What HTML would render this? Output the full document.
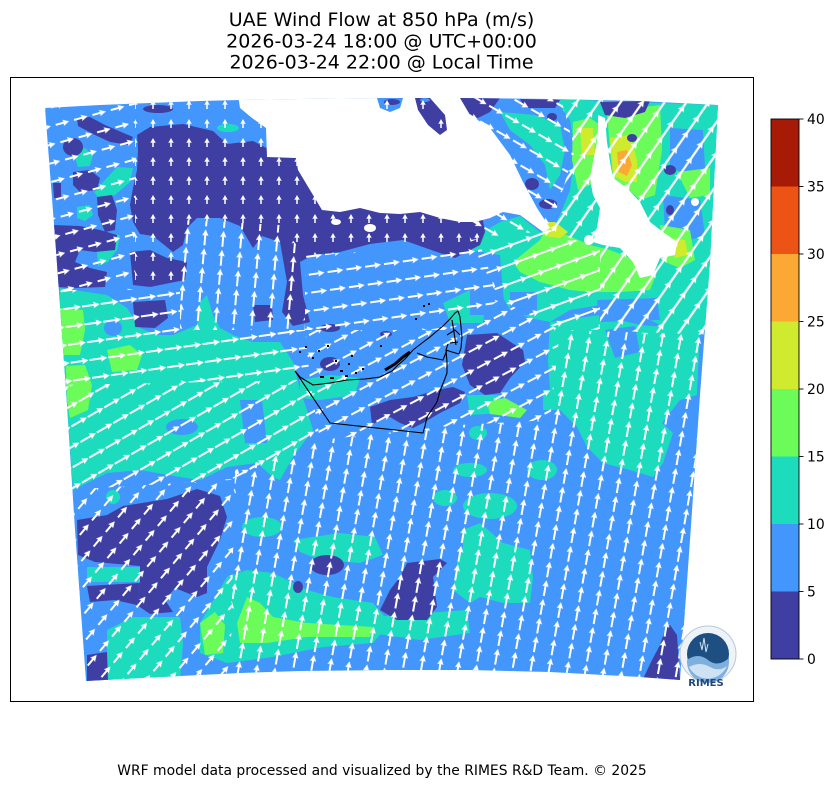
<!DOCTYPE html>
<html>
<head>
<meta charset="utf-8">
<style>
html,body{margin:0;padding:0;background:#fff;}
svg{display:block;}
text{font-family:"DejaVu Sans","Liberation Sans",sans-serif;}
</style>
</head>
<body>
<svg width="835" height="788" viewBox="0 0 835 788" xmlns="http://www.w3.org/2000/svg">
<defs>
<clipPath id="mc"><path d="M45,108 L100,105 L150,103 L200,101 L240,100 L300,99 L380,98 L460,98 L550,99 L640,101 L718,105 L710,262 L700,395 L690,540 L680,680 L640,677 L550,672 L470,670 L390,670 L300,671 L240,673 L160,677 L86,681 L75,530 L66,390 L56,250 Z"/></clipPath>
<path id="a9" d="M-4.5,-0.8 L0,-0.8 L-0.5,-2.8 L4.5,0 L-0.5,2.8 L0,0.8 L-4.5,0.8Z" fill="#fff"/>
<path id="a14" d="M-7,-1 L1.2,-1 L0.5,-3.2 L7,0 L0.5,3.2 L1.2,1 L-7,1Z" fill="#fff"/>
<path id="a16" d="M-8,-1 L2.2,-1 L1.5,-3.2 L8,0 L1.5,3.2 L2.2,1 L-8,1Z" fill="#fff"/>
<path id="a18" d="M-9,-1 L3.2,-1 L2.5,-3.3 L9,0 L2.5,3.3 L3.2,1 L-9,1Z" fill="#fff"/>
<path id="a22" d="M-11,-1 L5.2,-1 L4.5,-3.4 L11,0 L4.5,3.4 L5.2,1 L-11,1Z" fill="#fff"/>
<path id="a24" d="M-12,-1.1 L6,-1.1 L5.3,-3.5 L12,0 L5.3,3.5 L6,1.1 L-12,1.1Z" fill="#fff"/>

<pattern id="pR1" width="19" height="18" patternUnits="userSpaceOnUse" patternTransform="rotate(-15)"><use href="#a14" x="9.5" y="9"/></pattern>
<pattern id="pR2" width="19" height="18" patternUnits="userSpaceOnUse" patternTransform="rotate(-90)"><use href="#a9" x="9.5" y="9"/></pattern>
<pattern id="pR3" width="19" height="18" patternUnits="userSpaceOnUse" patternTransform="rotate(-85)"><use href="#a16" x="9.5" y="9"/></pattern>
<pattern id="pR4" width="19" height="18" patternUnits="userSpaceOnUse" patternTransform="rotate(-8)"><use href="#a18" x="9.5" y="9"/></pattern>
<pattern id="pR5" width="19" height="18" patternUnits="userSpaceOnUse" patternTransform="rotate(-30)"><use href="#a18" x="9.5" y="9"/></pattern>
<pattern id="pR6a" width="19" height="18" patternUnits="userSpaceOnUse" patternTransform="rotate(-8)"><use href="#a16" x="9.5" y="9"/></pattern>
<pattern id="pR6b" width="19" height="18" patternUnits="userSpaceOnUse" patternTransform="rotate(-28)"><use href="#a16" x="9.5" y="9"/></pattern>
<pattern id="pR7a" width="19" height="18" patternUnits="userSpaceOnUse" patternTransform="rotate(-20)"><use href="#a22" x="9.5" y="9"/><use href="#a22" x="-9.5" y="9"/><use href="#a22" x="28.5" y="9"/></pattern>
<pattern id="pR7b" width="19" height="18" patternUnits="userSpaceOnUse" patternTransform="rotate(-55)"><use href="#a24" x="9.5" y="9"/><use href="#a24" x="-9.5" y="9"/><use href="#a24" x="28.5" y="9"/></pattern>
<pattern id="pR8" width="19" height="18" patternUnits="userSpaceOnUse" patternTransform="rotate(30)"><use href="#a16" x="9.5" y="9"/></pattern>
<pattern id="pR9" width="19" height="18" patternUnits="userSpaceOnUse" patternTransform="rotate(-80)"><use href="#a16" x="9.5" y="9"/></pattern>
<pattern id="pR10" width="19" height="18" patternUnits="userSpaceOnUse" patternTransform="rotate(-50)"><use href="#a14" x="9.5" y="9"/></pattern>
</defs>

<rect width="835" height="788" fill="#fff"/>

<!-- Title -->
<text x="381.5" y="26" font-size="19" text-anchor="middle" fill="#000">UAE Wind Flow at 850 hPa (m/s)</text>
<text x="381.5" y="47.3" font-size="19" text-anchor="middle" fill="#000">2026-03-24 18:00 @ UTC+00:00</text>
<text x="381.5" y="68.6" font-size="19" text-anchor="middle" fill="#000">2026-03-24 22:00 @ Local Time</text>

<!-- Map -->
<g clip-path="url(#mc)">
<rect x="0" y="0" width="835" height="788" fill="#4396fc"/>

<!-- teal -->
<g fill="#1ddcbe">
<polygon points="60,288 107,295 127,308 140,328 157,335 173,335 197,325 200,302 207,295 213,315 220,328 233,335 253,342 280,342 293,362 300,390 307,410 313,430 293,457 280,480 273,477 257,463 227,467 200,480 180,477 140,470 107,473 73,490 66,390 60,330"/>
<polygon points="555,99 718,105 714,185 710,262 706,330 680,335 650,320 620,318 600,305 570,310 550,322 530,318 510,310 500,292 490,270 475,258 470,245 483,232 500,222 520,216 540,232 552,230 560,215 570,190 575,150 570,120"/>
<polygon points="500,112 535,115 560,125 565,150 560,175 550,190 545,165 530,145 510,130"/>
<polygon points="550,322 600,315 640,325 700,330 697,395 680,400 662,423 673,433 663,463 653,477 630,470 603,463 587,447 577,427 560,410 550,390 548,360"/>
<polygon points="73,152 85,148 93,155 90,166 78,167"/>
<polygon points="117,167 133,168 130,182 115,195 100,200 94,192 105,180"/>
<polygon points="77,207 90,205 93,215 85,221 77,218"/>
<polygon points="105,233 120,235 117,250 108,262 98,266 97,252"/>
<ellipse cx="228" cy="128" rx="11" ry="4"/>
<polygon points="443,303 470,290 487,292 483,323 450,323"/>
<polygon points="300,380 330,375 360,378 355,395 320,400 300,398"/>
<polygon points="467,395 500,395 503,413 470,415"/>
<polygon points="543,390 577,390 577,410 543,410"/>
<ellipse cx="478" cy="433" rx="9" ry="7"/>
<ellipse cx="470" cy="470" rx="17" ry="7"/>
<ellipse cx="542" cy="470" rx="15" ry="10"/>
<ellipse cx="445" cy="498" rx="12" ry="8"/>
<ellipse cx="490" cy="506" rx="27" ry="13"/>
<polygon points="463,530 480,523 503,543 530,550 533,577 530,603 503,603 480,597 470,603 453,590 457,563 463,547"/>
<polygon points="370,617 467,610 470,633 420,640 370,633"/>
<ellipse cx="262" cy="527" rx="20" ry="10"/>
<polygon points="293,540 340,533 375,537 383,555 360,563 320,560 300,552"/>
<ellipse cx="113" cy="497" rx="7" ry="7"/>
<polygon points="200,623 227,577 247,570 273,573 307,590 333,597 373,603 390,623 373,643 323,647 273,657 227,663 200,653"/>
<polygon points="107,630 133,617 180,617 183,643 180,681 107,681"/>
<polygon points="87,567 140,567 140,582 87,582"/>
</g>

<!-- blue patches inside teal -->
<g fill="#4396fc">
<ellipse cx="182" cy="427" rx="16" ry="8"/>
<polygon points="240,400 262,400 267,443 245,443"/>
<ellipse cx="113" cy="328" rx="9" ry="8"/>
<polygon points="670,128 703,130 705,168 690,175 670,168"/>
<polygon points="663,195 700,200 705,235 690,240 665,232"/>
<polygon points="470,250 500,255 505,315 470,315"/>
<polygon points="510,292 537,292 537,315 510,315"/>
<polygon points="597,300 657,298 660,320 600,322"/>
<polygon points="605,330 635,326 640,352 615,358"/>
</g>

<!-- green -->
<g fill="#6cfc5a">
<polygon points="573,122 590,118 600,125 598,178 590,185 578,190 572,160"/>
<polygon points="607,112 660,105 662,150 655,195 640,200 627,188 613,178 610,150"/>
<polygon points="677,172 710,168 710,195 690,198"/>
<polygon points="513,262 540,240 548,225 560,232 590,245 610,250 640,262 657,272 650,290 620,292 590,292 570,290 540,282 520,272"/>
<polygon points="660,225 690,230 695,260 680,268 665,262"/>
<polygon points="60,308 83,310 85,330 80,355 62,355"/>
<polygon points="66,366 85,365 92,385 88,410 70,418 67,400"/>
<polygon points="107,350 130,345 142,355 137,370 112,372"/>
<polygon points="487,402 505,398 527,410 520,418 490,414"/>
<polygon points="200,623 215,612 225,625 223,653 205,655"/>
<polygon points="247,597 260,603 273,617 307,623 373,627 370,637 307,637 267,643 240,643 237,623"/>
</g>

<!-- yellow / orange -->
<g fill="#d0ea2e">
<polygon points="580,128 593,128 595,155 582,155"/>
<polygon points="610,138 630,135 637,160 637,182 625,182 613,175"/>
<polygon points="543,222 555,222 568,232 560,238 545,236"/>
<polygon points="668,238 685,240 688,255 675,258"/>
</g>
<polygon points="617,152 627,150 632,165 627,176 619,172" fill="#fba834"/>

<!-- purple -->
<g fill="#3f3fa3">
<polygon points="137,135 150,127 183,124 213,131 227,144 253,141 270,150 300,150 330,200 380,205 480,205 485,232 480,245 455,258 437,252 403,240 370,244 340,252 313,255 300,262 303,295 310,322 293,326 282,312 287,282 280,242 262,236 253,248 240,226 220,218 197,218 187,228 183,245 173,252 153,236 140,234 133,222 130,205 133,188 137,170 138,150"/>
<polygon points="73,172 90,170 100,178 97,190 80,192 73,185"/>
<polygon points="97,197 112,195 117,210 115,230 105,232 98,215"/>
<polygon points="53,225 80,226 100,230 117,235 115,250 95,252 80,250 75,262 90,268 107,272 105,287 75,288 58,287 55,255"/>
<polygon points="53,183 61,183 61,198 54,198"/>
<ellipse cx="158" cy="109" rx="15" ry="4"/>
<polygon points="77,118 90,117 105,125 133,137 130,145 110,142 95,135 78,126"/>
<ellipse cx="73" cy="147" rx="10" ry="9"/>
<polygon points="130,252 150,250 167,258 187,262 185,280 150,287 133,285"/>
<polygon points="133,302 165,300 168,318 155,328 135,327"/>
<polygon points="253,305 272,305 273,320 255,322"/>
<ellipse cx="330" cy="364" rx="10" ry="7"/>
<ellipse cx="330" cy="328" rx="10" ry="4"/>
<ellipse cx="386" cy="334" rx="6" ry="3"/>
<polygon points="372,425 370,407 390,400 413,397 437,390 453,387 465,392 460,403 440,413 423,423 413,428 400,423 390,417 380,420"/>
<polygon points="467,335 497,333 523,350 525,362 510,378 500,393 485,395 470,385 462,365"/>
<polygon points="407,563 440,559 447,563 433,577 437,607 427,620 397,620 380,610 390,590 400,577"/>
<polygon points="670,625 677,635 680,680 643,679 652,660 660,645 665,630"/>
<polygon points="77,520 107,515 123,506 167,499 197,489 220,496 227,517 220,540 207,567 207,593 197,597 175,588 165,600 173,612 150,614 137,605 140,583 140,566 95,562 78,555"/>
<polygon points="87,586 140,583 137,605 115,600 90,602"/>
<polygon points="87,655 107,652 108,681 87,681"/>
<ellipse cx="327" cy="565" rx="17" ry="10"/>
<ellipse cx="298" cy="587" rx="5" ry="6"/>
<polygon points="600,102 650,101 645,112 625,118 605,115"/>
<polygon points="520,99 560,100 555,108 525,108"/>
<ellipse cx="532" cy="184" rx="7" ry="6"/>
<ellipse cx="548" cy="204" rx="9" ry="5"/>
<ellipse cx="632" cy="138" rx="5" ry="4"/>
<ellipse cx="670" cy="170" rx="6" ry="5"/>
<ellipse cx="670" cy="210" rx="4" ry="5"/>
<ellipse cx="552" cy="117" rx="5" ry="4"/>
</g>

<!-- white masks -->
<g fill="#fff">
<polygon points="238,95 240,108 252,118 266,128 267,157 296,158 298,170 310,190 322,210 340,212 360,208 380,213 400,214 420,212 440,218 460,222 475,222 490,218 503,212 520,215 543,232 550,228 537,208 523,182 510,155 490,128 470,115 462,95"/>
<ellipse cx="370" cy="228" rx="6" ry="4"/>
<ellipse cx="336" cy="222" rx="5" ry="3"/>
<polygon points="598,115 605,118 607,142 610,162 613,178 627,188 640,202 650,222 663,232 677,242 675,255 660,258 653,275 640,278 633,262 620,248 603,245 593,242 597,228 600,208 593,195 590,178 593,162 597,142 598,128"/>
<circle cx="695" cy="202" r="4"/>
<circle cx="589" cy="240" r="5"/>
</g>
<polygon points="377,98 403,98 400,108 390,112 380,108" fill="#4396fc"/>
<ellipse cx="392" cy="102" rx="8" ry="3" fill="#3f3fa3"/>
<polygon points="415,98 430,98 445,115 447,130 440,135 428,125 418,110" fill="#3f3fa3"/>
<ellipse cx="425" cy="100" rx="5" ry="2" fill="#4396fc"/>
<polygon points="460,98 500,98 490,112 478,118 470,115" fill="#3f3fa3"/>

<!-- arrows -->
<polygon points="40,100 135,100 135,290 50,290" fill="url(#pR1)"/>
<polygon points="135,95 463,95 480,245 305,255 280,225 185,220 180,290 135,290" fill="url(#pR2)"/>
<polygon points="185,220 280,225 305,255 305,330 180,330 180,290" fill="url(#pR3)"/>
<polygon points="50,290 180,290 180,330 305,330 310,380 60,385" fill="url(#pR4)"/>
<polygon points="60,385 310,380 320,440 230,480 65,490" fill="url(#pR5)"/>
<polygon points="305,255 480,245 500,300 450,330 305,330" fill="url(#pR6a)"/>
<polygon points="305,330 450,330 500,300 560,330 550,420 460,425 320,440 310,380" fill="url(#pR6b)"/>
<polygon points="470,240 550,230 600,250 600,330 560,330 500,300" fill="url(#pR7a)"/>
<polygon points="560,95 725,95 710,335 600,330 600,250 550,230 575,150" fill="url(#pR7b)"/>
<polygon points="463,95 560,95 575,150 550,230 470,240" fill="url(#pR8)"/>
<polygon points="320,440 460,425 550,420 560,330 710,335 690,690 230,690 235,470" fill="url(#pR9)"/>
<polygon points="65,490 230,480 235,470 230,690 80,690" fill="url(#pR10)"/>
</g>

<!-- UAE outline -->
<g fill="none" stroke="#000" stroke-width="1.1" stroke-linejoin="round">
<path d="M295,371 L300,377 L313,385 L330,383 L347,380 L365,379 L380,377 L392,371 L398,365 L405,359 L413,350 L422,343 L430,337 L437,331 L443,326 L450,319 L455,313 L458,311 L460,317 L461,327 L462,337 L461,348 L459,354"/>
<path d="M295,371 L330,423 L423,433 L425,426 L427,417 L433,408 L437,402 L440,391 L444,381 L447,373 L447,362 L446,350 L448,344"/>
<path d="M446,350 L452,352 L459,354"/>
<path d="M417,353 L427,357 L443,360 L447,350"/>
<path d="M447,335 L455,330 L460,335 M450,343 L458,342 M452,320 L456,345"/>
<path d="M385,370 L395,364 L403,357 L410,352" stroke-width="3"/>
</g>
<g fill="#000">
<rect x="299" y="351" width="2" height="2"/><rect x="305" y="346" width="2" height="2"/>
<rect x="312" y="357" width="2" height="2"/><rect x="318" y="350" width="2" height="2"/>
<rect x="327" y="345" width="2" height="2"/><rect x="335" y="360" width="2" height="2"/>
<rect x="340" y="370" width="3" height="2"/><rect x="348" y="363" width="2" height="2"/>
<rect x="351" y="355" width="2" height="2"/><rect x="355" y="372" width="2" height="2"/>
<rect x="362" y="368" width="2" height="2"/><rect x="380" y="345" width="2" height="2"/>
<rect x="415" y="318" width="2" height="2"/><rect x="423" y="305" width="2" height="2"/>
<rect x="428" y="303" width="2" height="2"/><rect x="320" y="376" width="4" height="2"/>
<rect x="330" y="377" width="4" height="2"/><rect x="345" y="375" width="3" height="2"/>
</g>

<!-- Axes frame -->
<rect x="10.5" y="77.5" width="743" height="624" fill="none" stroke="#000" stroke-width="1"/>

<!-- Logo -->
<g>
<circle cx="708" cy="654" r="28" fill="#eef3f8" stroke="#b8c8da" stroke-width="1"/>
<circle cx="708" cy="654" r="21" fill="#1d4f82"/>
<path d="M687,660 Q698,652 708,660 Q718,668 729,658 L729,662 A21,21 0 0 1 687,662 Z" fill="#7fb0dd"/>
<path d="M689,667 Q700,661 710,667 Q719,672 727,666 A21,21 0 0 1 689,667 Z" fill="#cfe2f3"/>
<path d="M700,642 L702,650 L704,638 L706,652 L708,644" stroke="#cfe2f3" stroke-width="1" fill="none"/>
<text x="706" y="686" font-size="10" font-weight="bold" text-anchor="middle" fill="#23467a">RIMES</text>
</g>

<!-- Colorbar -->
<rect x="771" y="119" width="28" height="67.5" fill="#a71a05"/>
<rect x="771" y="186.5" width="28" height="67.5" fill="#ec5314"/>
<rect x="771" y="254" width="28" height="67.5" fill="#fba834"/>
<rect x="771" y="321.5" width="28" height="67.5" fill="#d0ea2e"/>
<rect x="771" y="389" width="28" height="67.5" fill="#6cfc5a"/>
<rect x="771" y="456.5" width="28" height="67.5" fill="#1ddcbe"/>
<rect x="771" y="524" width="28" height="67.5" fill="#4396fc"/>
<rect x="771" y="591.5" width="28" height="67.5" fill="#3f3fa3"/>
<rect x="771" y="119" width="28" height="540" fill="none" stroke="#000" stroke-width="0.9"/>
<g stroke="#000" stroke-width="0.9">
<line x1="799" y1="659" x2="803.5" y2="659"/><line x1="799" y1="591.5" x2="803.5" y2="591.5"/>
<line x1="799" y1="524" x2="803.5" y2="524"/><line x1="799" y1="456.5" x2="803.5" y2="456.5"/>
<line x1="799" y1="389" x2="803.5" y2="389"/><line x1="799" y1="321.5" x2="803.5" y2="321.5"/>
<line x1="799" y1="254" x2="803.5" y2="254"/><line x1="799" y1="186.5" x2="803.5" y2="186.5"/>
<line x1="799" y1="119" x2="803.5" y2="119"/>
</g>
<g font-size="13.9" fill="#000">
<text x="807" y="664">0</text>
<text x="807" y="596.5">5</text>
<text x="807" y="529">10</text>
<text x="807" y="461.5">15</text>
<text x="807" y="394">20</text>
<text x="807" y="326.5">25</text>
<text x="807" y="259">30</text>
<text x="807" y="191.5">35</text>
<text x="807" y="124">40</text>
</g>

<!-- Footer -->
<text x="382" y="775" font-size="13.9" text-anchor="middle" fill="#000">WRF model data processed and visualized by the RIMES R&amp;D Team. © 2025</text>
</svg>
</body>
</html>
